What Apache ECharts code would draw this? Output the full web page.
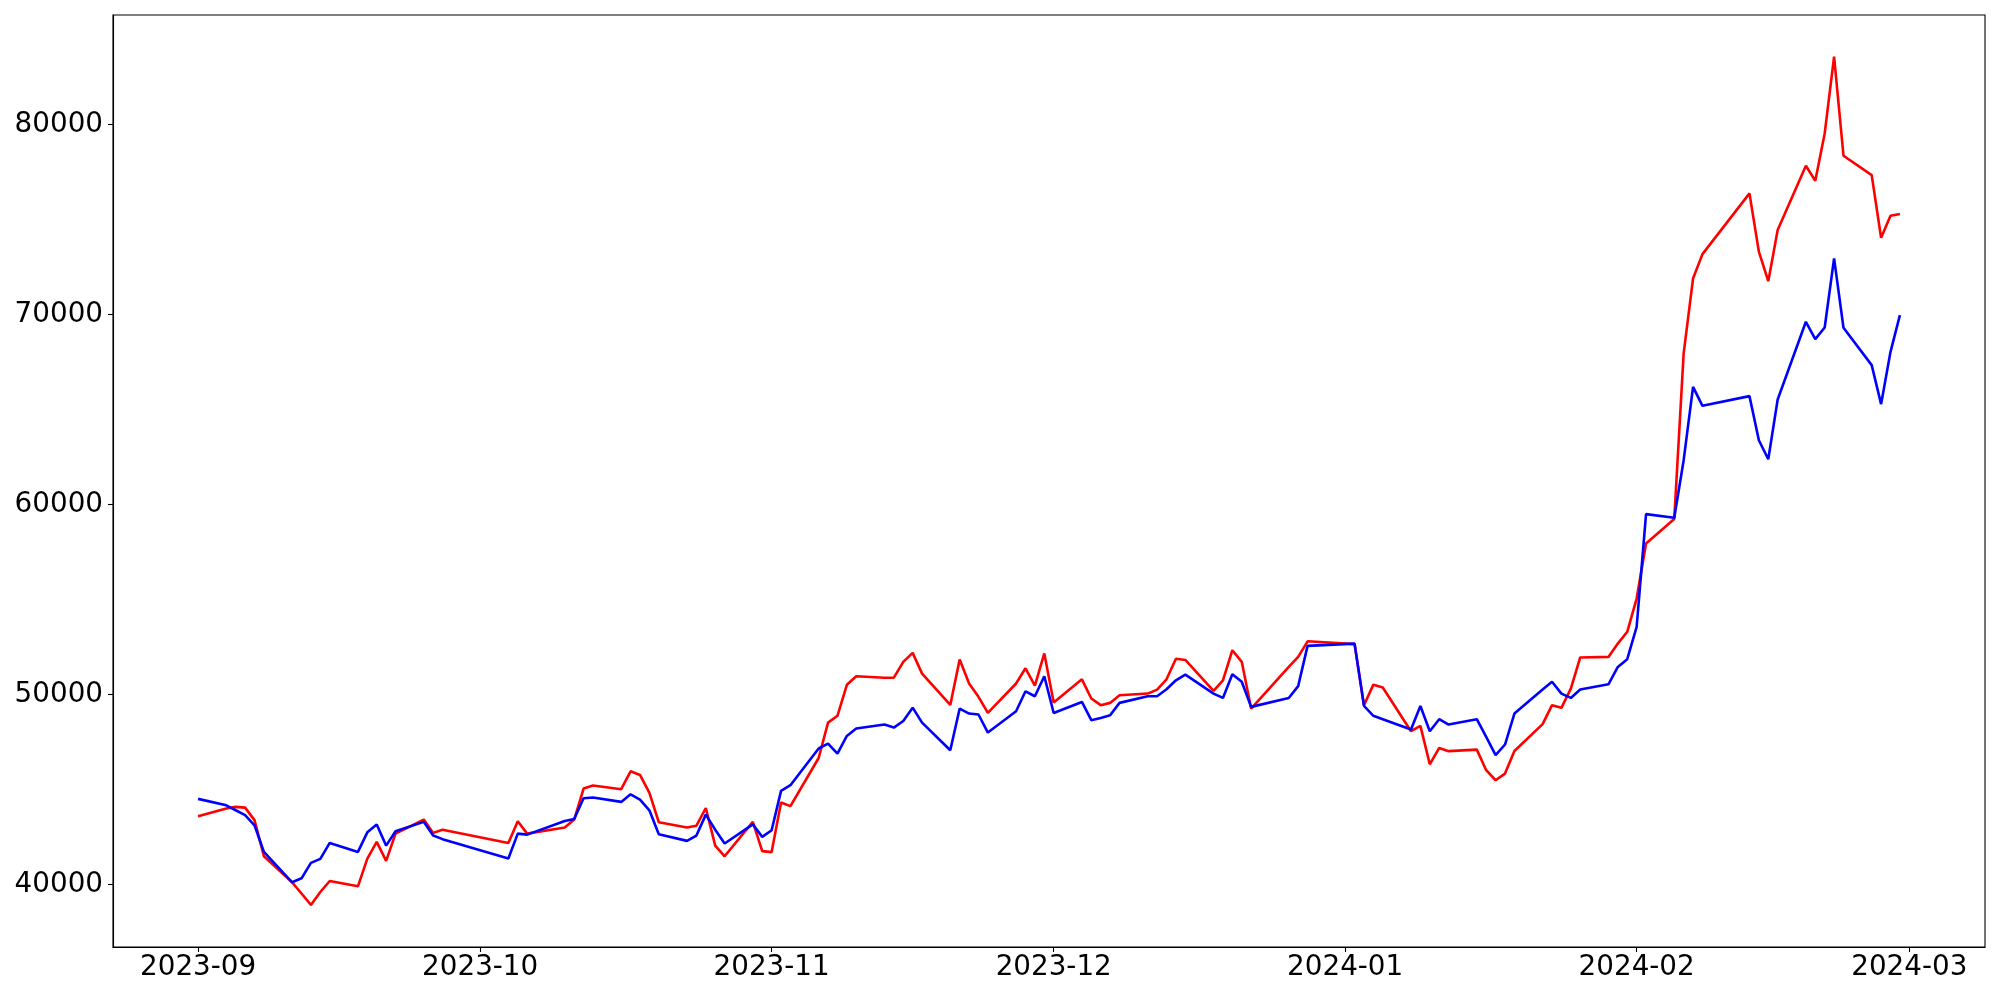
<!DOCTYPE html>
<html>
<head>
<meta charset="utf-8">
<script src="https://cdn.jsdelivr.net/npm/echarts@6/dist/echarts.min.js"></script>
<style>
html,body{margin:0;padding:0;background:#fff;}
#chart{width:2000px;height:1000px;}
</style>
</head>
<body>
<div id="chart"></div>
<script>
// Trading dates (Korean market calendar)
const dates = [
 '2023-09-01','2023-09-04','2023-09-05','2023-09-06','2023-09-07','2023-09-08','2023-09-11','2023-09-12','2023-09-13','2023-09-14','2023-09-15','2023-09-18','2023-09-19','2023-09-20','2023-09-21','2023-09-22','2023-09-25','2023-09-26','2023-09-27',
 '2023-10-04','2023-10-05','2023-10-06','2023-10-10','2023-10-11','2023-10-12','2023-10-13','2023-10-16','2023-10-17','2023-10-18','2023-10-19','2023-10-20','2023-10-23','2023-10-24','2023-10-25','2023-10-26','2023-10-27','2023-10-30','2023-10-31',
 '2023-11-01','2023-11-02','2023-11-03','2023-11-06','2023-11-07','2023-11-08','2023-11-09','2023-11-10','2023-11-13','2023-11-14','2023-11-15','2023-11-16','2023-11-17','2023-11-20','2023-11-21','2023-11-22','2023-11-23','2023-11-24','2023-11-27','2023-11-28','2023-11-29','2023-11-30',
 '2023-12-01','2023-12-04','2023-12-05','2023-12-06','2023-12-07','2023-12-08','2023-12-11','2023-12-12','2023-12-13','2023-12-14','2023-12-15','2023-12-18','2023-12-19','2023-12-20','2023-12-21','2023-12-22','2023-12-26','2023-12-27','2023-12-28',
 '2024-01-02','2024-01-03','2024-01-04','2024-01-05','2024-01-08','2024-01-09','2024-01-10','2024-01-11','2024-01-12','2024-01-15','2024-01-16','2024-01-17','2024-01-18','2024-01-19','2024-01-22','2024-01-23','2024-01-24','2024-01-25','2024-01-26','2024-01-29','2024-01-30','2024-01-31',
 '2024-02-01','2024-02-02','2024-02-05','2024-02-06','2024-02-07','2024-02-08','2024-02-13','2024-02-14','2024-02-15','2024-02-16','2024-02-19','2024-02-20','2024-02-21','2024-02-22','2024-02-23','2024-02-26','2024-02-27','2024-02-28','2024-02-29'
];

const redValues = [
 43600,44000,44090,44050,43390,41490,40120,39530,38930,39610,40190,39910,41370,42250,41250,42680,43420,42720,42890,
 42190,43330,42680,43000,43420,45050,45210,45020,45960,45770,44820,43280,43000,43100,44030,42050,41490,43300,41760,
 41710,44320,44130,46660,48520,48880,50510,50960,50880,50890,51720,52190,51100,49450,51840,50580,49880,49030,50580,51380,50470,52160,
 49580,50800,49790,49440,49560,49960,50050,50260,50800,51880,51820,50190,50750,52330,51720,49260,51450,51980,52800,
 52650,49440,50520,50370,48070,48350,46330,47190,47020,47100,46020,45490,45840,47030,48440,49440,49300,50310,51950,51980,52680,53300,
 55050,57950,59230,67950,71890,73170,76370,73300,71750,74440,77820,77030,79520,83560,78350,77330,74030,75190,75280
];

const blueValues = [
 44510,44170,43910,43650,43120,41720,40120,40330,41140,41350,42190,41720,42750,43160,42050,42810,43300,42580,42390,
 41370,42680,42630,43350,43450,44540,44580,44350,44750,44470,43910,42650,42300,42580,43680,42890,42160,43170,42510,
 42860,44930,45230,47160,47420,46890,47820,48210,48420,48260,48610,49310,48520,47070,49260,49000,48950,48000,49120,50170,49910,50960,
 49030,49610,48650,48770,48910,49560,49910,49910,50280,50750,51050,50050,49820,51070,50670,49350,49820,50440,52560,
 52680,49400,48880,48700,48160,49400,48070,48700,48420,48700,47770,46810,47370,49000,50260,50670,50050,49820,50260,50540,51450,51860,
 53560,59490,59300,62330,66190,65190,65700,63380,62380,65520,69610,68700,69310,72950,69300,67330,65280,68030,69960
];

const xTickLabels = ['2023-09','2023-10','2023-11','2023-12','2024-01','2024-02','2024-03'];
const yTickValues = [40000,50000,60000,70000,80000];

function toTs(s){
  const p = s.split('-').map(Number);
  return Date.UTC(p[0], p[1]-1, p[2] || 1);
}
const xTicks = xTickLabels.map(toTs);
const firstTs = toTs(dates[0]);
const lastTs = toTs(dates[dates.length-1]);
const xSpan = lastTs - firstTs;

const redData = dates.map((d,i)=>[toTs(d), redValues[i]]);
const blueData = dates.map((d,i)=>[toTs(d), blueValues[i]]);

const font = 'DejaVu Sans';
const chart = echarts.init(document.getElementById('chart'), null, {renderer:'canvas'});
chart.setOption({
  animation: false,
  backgroundColor: '#ffffff',
  grid: {left: 113, right: 15, top: 15, bottom: 53, show: true, borderColor: '#000', borderWidth: 1.1, containLabel: false},
  xAxis: {
    type: 'value',
    scale: true,
    min: firstTs - xSpan*0.05,
    max: lastTs + xSpan*0.05,
    splitLine: {show: false},
    axisLine: {show: true, lineStyle: {color: '#000', width: 1.1}},
    axisTick: {show: true, length: 5, lineStyle: {color: '#000', width: 1.1}, customValues: xTicks},
    axisLabel: {
      customValues: xTicks,
      color: '#000', fontFamily: font, fontSize: 27.8, margin: 7,
      formatter: function(v){
        let best = 0, bd = Infinity;
        xTicks.forEach((t,i)=>{ const dd = Math.abs(t - v); if (dd < bd){bd = dd; best = i;} });
        return xTickLabels[best];
      }
    }
  },
  yAxis: {
    type: 'value',
    min: 36716,
    max: 85753,
    splitLine: {show: false},
    axisLine: {show: true, lineStyle: {color: '#000', width: 1.1}},
    axisTick: {show: true, length: 5, lineStyle: {color: '#000', width: 1.1}, customValues: yTickValues},
    axisLabel: {
      customValues: yTickValues,
      color: '#000', fontFamily: font, fontSize: 27.8, margin: 10,
      formatter: function(v){ return String(v); }
    }
  },
  series: [
    {type: 'line', data: redData, showSymbol: false, symbol: 'none', lineStyle: {color: '#ff0000', width: 2.6}, itemStyle:{color:'#ff0000'}, z: 2},
    {type: 'line', data: blueData, showSymbol: false, symbol: 'none', lineStyle: {color: '#0000ff', width: 2.6}, itemStyle:{color:'#0000ff'}, z: 3}
  ]
});
</script>
</body>
</html>
